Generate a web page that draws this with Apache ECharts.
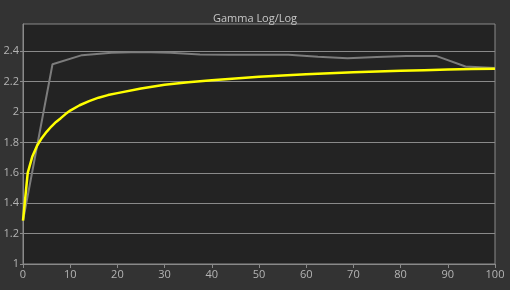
<!DOCTYPE html>
<html>
<head>
<meta charset="utf-8">
<script src="https://cdn.jsdelivr.net/npm/echarts@6/dist/echarts.min.js"></script>
<style>
html,body{margin:0;padding:0;background:#333333;}
#c{width:510px;height:290px;}
</style>
</head>
<body>
<div id="c"></div>
<script>
const title = "Gamma Log/Log";
const xTicks = [0,10,20,30,40,50,60,70,80,90,100];
const yTicks = [1,1.2,1.4,1.6,1.8,2,2.2,2.4];
const measuredX = [0,6.25,12.5,18.75,25,31.25,37.5,43.75,50,56.25,62.5,68.75,75,81.25,87.5,93.75,100];
const measuredGamma = [1.285,2.315,2.375,2.39,2.395,2.39,2.38,2.378,2.377,2.377,2.365,2.354,2.362,2.37,2.37,2.30,2.29];
const targetX = [0,1,2,3,4,5,6,7,8,9,10,12,14,16,18,20,25,30,35,40,45,50,55,60,65,70,75,80,85,90,95,100];
const targetGamma = [1.285,1.6,1.71,1.78,1.83,1.87,1.905,1.935,1.96,1.987,2.01,2.045,2.072,2.095,2.112,2.125,2.155,2.18,2.197,2.21,2.222,2.232,2.241,2.249,2.256,2.262,2.267,2.272,2.276,2.28,2.283,2.286];

const pair = (xs, ys) => xs.map((x, i) => [x, ys[i]]);
const chart = echarts.init(document.getElementById('c'), null, {renderer: 'canvas'});
chart.setOption({
  backgroundColor: '#333333',
  animation: false,
  title: {
    text: title, left: 'center', top: 8,
    textStyle: {color: '#c8c8c8', fontSize: 11, fontWeight: 'normal', fontFamily: 'Open Sans'}
  },
  grid: {
    left: 23, right: 15, top: 24, bottom: 26,
    show: true, backgroundColor: '#232323', borderColor: '#8a8a8a', borderWidth: 1
  },
  xAxis: {
    type: 'value', min: 0, max: 100, interval: 10,
    axisLine: {show: true, lineStyle: {color: '#8a8a8a'}},
    axisTick: {show: true, length: 4, lineStyle: {color: '#8a8a8a'}},
    axisLabel: {color: '#b4b4b4', fontSize: 11, fontFamily: 'Open Sans', margin: 5,
      customValues: xTicks},
    splitLine: {show: false}
  },
  yAxis: {
    type: 'value', min: 1, max: 2.58,
    axisLine: {show: true, lineStyle: {color: '#8a8a8a'}},
    axisTick: {show: true, length: 3, lineStyle: {color: '#8a8a8a'}, customValues: yTicks},
    axisLabel: {color: '#b4b4b4', fontSize: 11, fontFamily: 'Open Sans', margin: 4,
      customValues: yTicks},
    splitLine: {show: true, lineStyle: {color: '#8a8a8a', width: 1}}
  },
  series: [
    {
      type: 'line', data: pair(measuredX, measuredGamma), showSymbol: false,
      lineStyle: {color: '#7c7c7c', width: 2}, z: 2
    },
    {
      type: 'line', data: pair(targetX, targetGamma), showSymbol: false,
      lineStyle: {color: '#ffff00', width: 2.5}, z: 3
    }
  ]
});
</script>
</body>
</html>
